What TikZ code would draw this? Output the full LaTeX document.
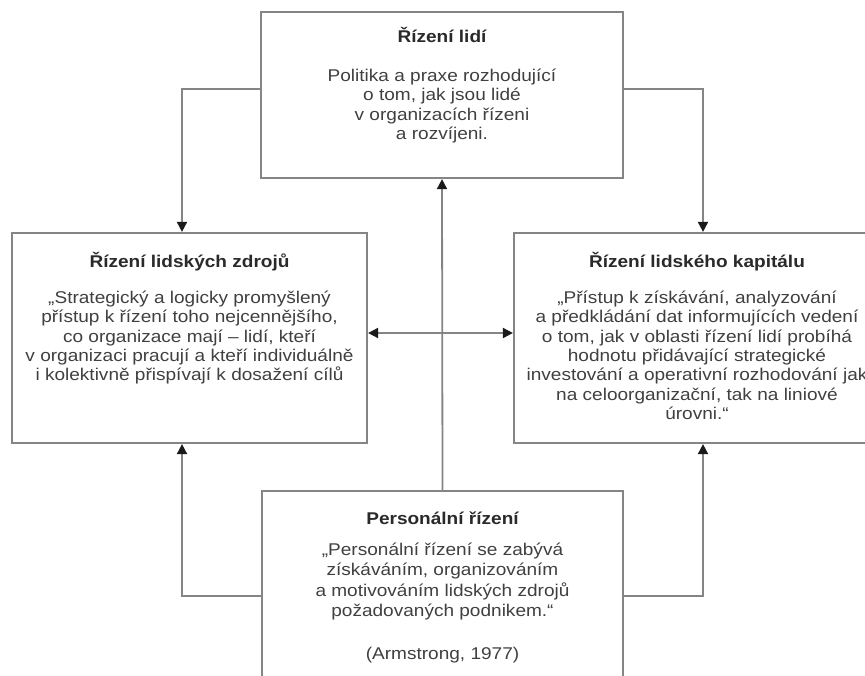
\documentclass[tikz,border=0pt]{standalone}
\usepackage{fontspec}
\setmainfont{Liberation Sans}[FakeStretch=1.12]
\usepackage{tikz}
\usetikzlibrary{arrows.meta,positioning}
\definecolor{linec}{HTML}{858585}
\definecolor{tipc}{HTML}{1A1A1A}
\definecolor{headc}{HTML}{2A2A2A}
\definecolor{bodyc}{HTML}{404040}
\newcommand{\boxtitle}[1]{{\bfseries\color{headc}#1}}
\tikzset{
  ar/.style={-{Triangle[length=10pt,width=10pt,color=tipc]},line width=1.8pt,linec},
  dar/.style={{Triangle[length=10pt,width=10pt,color=tipc]}-{Triangle[length=10pt,width=10pt,color=tipc]},line width=1.8pt,linec},
  box/.style={draw=linec,line width=2.2pt,fill=white,inner sep=0pt},
  txt/.style={align=center,inner sep=0pt,text=bodyc,font=\fontsize{17}{19.3}\selectfont}
}

\begin{document}
\begin{tikzpicture}[x=1pt,y=-1pt]
\useasboundingbox (0,0) rectangle (865,675);
\clip (0,0) rectangle (865,675);
% boxes
\node[box,minimum width=362pt,minimum height=166pt] (lidi) at (442,95) {};
\node[box,minimum width=355pt,minimum height=210pt] (zdroje) at (189.5,338) {};
\node[box,minimum width=378pt,minimum height=210pt] (kapital) at (703,338) {};
\node[box,minimum width=361pt,minimum height=210pt] (personal) at (442.5,596) {};
% texts
\node[txt,below=16pt of lidi.north] (lidi-t) {\boxtitle{Řízení lidí}\\[20pt]
  Politika a praxe rozhodující\\ o tom, jak jsou lidé\\
  v organizacích řízeni\\ a rozvíjeni.};
\node[txt,below=20pt of zdroje.north] (zdroje-t) {\boxtitle{Řízení lidských zdrojů}\\[17pt]
  „Strategický a logicky promyšlený\\ přístup k řízení toho nejcennějšího,\\
  co organizace mají – lidí, kteří\\ v organizaci pracují a kteří individuálně\\
  i kolektivně přispívají k dosažení cílů};
\node[txt,below=20pt of kapital.north,xshift=-6pt] (kapital-t) {\boxtitle{Řízení lidského kapitálu}\\[17pt]
  „Přístup k získávání, analyzování\\ a předkládání dat informujících vedení\\
  o tom, jak v oblasti řízení lidí probíhá\\ hodnotu přidávající strategické\\
  investování a operativní rozhodování jak\\ na celoorganizační, tak na liniové\\ úrovni.“};
\node[txt,font=\fontsize{17}{20.5}\selectfont,below=22pt of personal.north] (personal-t)
  {\boxtitle{Personální řízení}\\[10pt]
  „Personální řízení se zabývá\\ získáváním, organizováním\\
  a motivováním lidských zdrojů\\ požadovaných podnikem.“\\[22pt] (Armstrong, 1977)};
% connectors
\draw[ar] ([yshift=6pt]lidi.west) -| ([xshift=-7.5pt]zdroje.north);
\draw[ar] ([yshift=6pt]lidi.east) -| (kapital.north);
\draw[ar] (personal.west) -| ([xshift=-7.5pt]zdroje.south);
\draw[ar] (personal.east) -| (kapital.south);
\draw[ar] (personal.north) -- (lidi.south);
\draw[dar] ([yshift=5pt]zdroje.east) -- ([yshift=5pt]kapital.west);
\end{tikzpicture}
\end{document}
